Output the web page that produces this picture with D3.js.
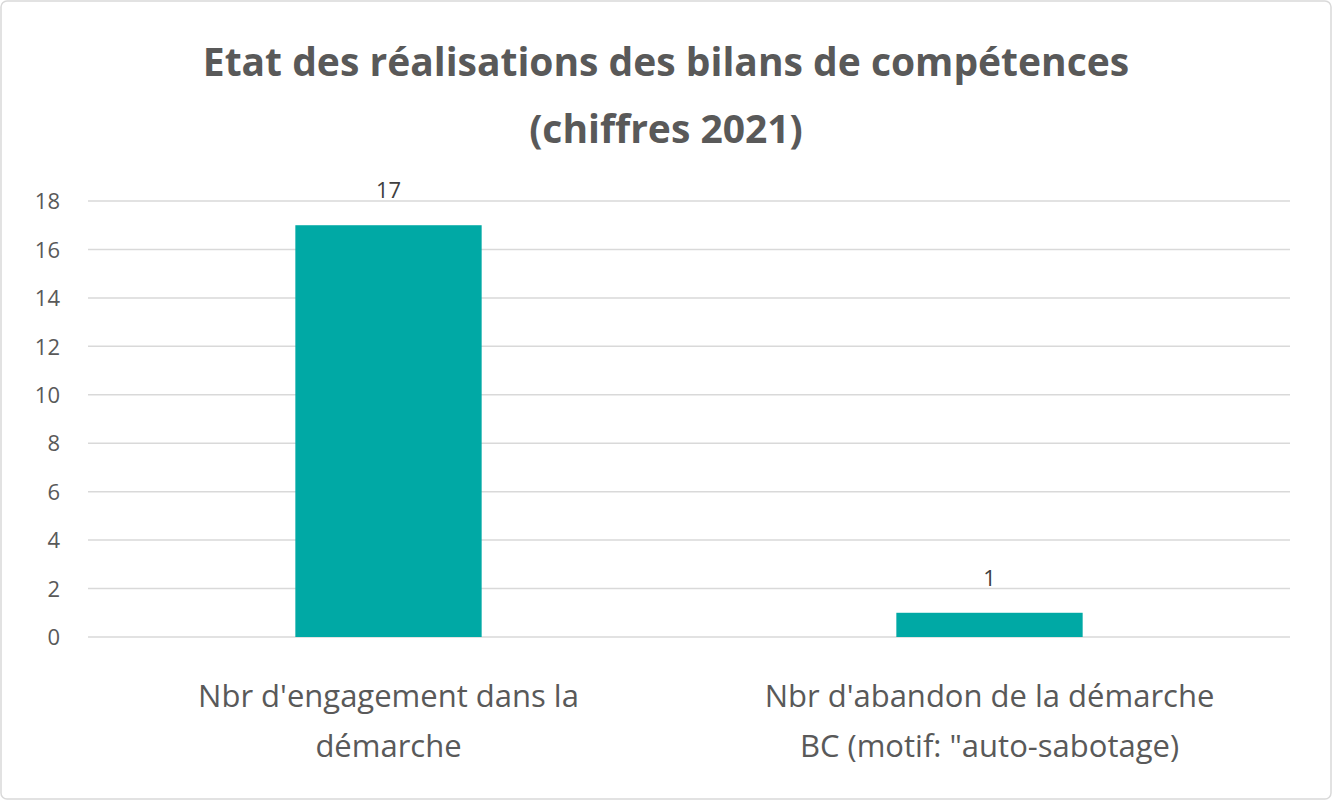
<!DOCTYPE html>
<html><head><meta charset="utf-8">
<script src="https://cdn.jsdelivr.net/npm/d3@7"></script>
<style>body{margin:0;background:#fff}text{font-family:"Open Sans",sans-serif}</style>
</head><body>
<svg id="chart" width="1332" height="800"></svg>
<script>
"use strict";

// donnees du graphique
var categories = [["Nbr d'engagement dans la", "démarche"], ["Nbr d'abandon de la démarche", "BC (motif: \"auto-sabotage)"]];
var values = [17, 1];
var yTicks = [0, 2, 4, 6, 8, 10, 12, 14, 16, 18];
var titleLines = ["Etat des réalisations des bilans de compétences", "(chiffres 2021)"];

var svg = d3.select("#chart");
var grey = "#595959";

svg.append("rect").attr("x", 1).attr("y", 1).attr("width", 1330).attr("height", 798)
  .attr("rx", 6).attr("fill", "#fff").attr("stroke", "#d9d9d9").attr("stroke-width", 1.5);

var x = d3.scaleBand().domain(d3.range(values.length)).range([88, 1290]).paddingInner(0.62).paddingOuter(0.31);
x.paddingInner(0).paddingOuter(0);
var y = d3.scaleLinear().domain([0, 18]).range([637, 201]);

// grille
svg.selectAll(".grid").data(yTicks).enter().append("line")
  .attr("x1", 88).attr("x2", 1290)
  .attr("y1", function(d){ return y(d); }).attr("y2", function(d){ return y(d); })
  .attr("stroke", "#d9d9d9").attr("stroke-width", 1.5);

// axe y
var yAxis = svg.append("g").attr("transform", "translate(88,0)")
  .call(d3.axisLeft(y).tickValues(yTicks).tickSize(0).tickPadding(28));
yAxis.select(".domain").remove();
yAxis.selectAll("text").attr("fill", grey).style("font-size", "22px").attr("dy", "0.35em");

// barres
var bw = x.bandwidth() * 0.31;
svg.selectAll(".bar").data(values).enter().append("rect")
  .attr("x", function(d, i){ return x(i) + x.bandwidth() / 2 - bw / 2; })
  .attr("width", bw)
  .attr("y", function(d){ return y(d); })
  .attr("height", function(d){ return y(0) - y(d); })
  .attr("fill", "#00a9a5");

svg.selectAll(".val").data(values).enter().append("text")
  .attr("x", function(d, i){ return x(i) + x.bandwidth() / 2; })
  .attr("y", function(d){ return y(d) - 27; })
  .attr("text-anchor", "middle").attr("fill", "#404040").style("font-size", "22px")
  .text(function(d){ return d; });

// libelles des categories
categories.forEach(function(lines, i){
  lines.forEach(function(l, j){
    svg.append("text").attr("x", x(i) + x.bandwidth() / 2).attr("y", 707 + j * 50)
      .attr("text-anchor", "middle").attr("fill", grey).style("font-size", "31px").text(l);
  });
});

// titre
titleLines.forEach(function(l, j){
  svg.append("text").attr("x", 666).attr("y", 76 + j * 67)
    .attr("text-anchor", "middle").attr("fill", grey)
    .style("font-size", "39px").style("font-weight", "bold").text(l);
});
</script>
</body></html>
